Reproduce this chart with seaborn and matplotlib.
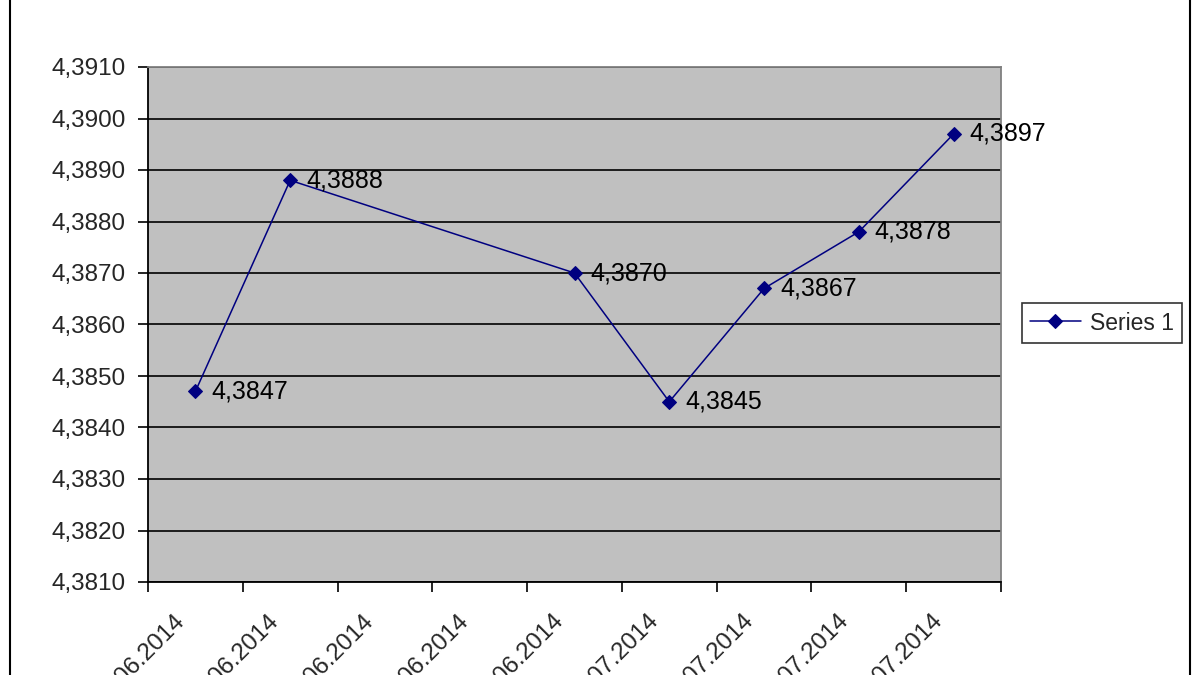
import matplotlib
matplotlib.use("Agg")
import matplotlib.pyplot as plt
import matplotlib.ticker as mticker
import matplotlib.transforms as mtransforms
from matplotlib.patches import Rectangle
import seaborn as sns
import pandas as pd

# ---- data ----
category_dates = ["26.06.2014", "27.06.2014", "28.06.2014", "29.06.2014", "30.06.2014",
                  "01.07.2014", "02.07.2014", "03.07.2014", "04.07.2014"]
point_dates = ["26.06.2014", "27.06.2014", "30.06.2014", "01.07.2014",
               "02.07.2014", "03.07.2014", "04.07.2014"]
values = [4.3847, 4.3888, 4.3870, 4.3845, 4.3867, 4.3878, 4.3897]
series_name = "Series 1"
y_ticks = [4.3810, 4.3820, 4.3830, 4.3840, 4.3850, 4.3860, 4.3870, 4.3880, 4.3890, 4.3900, 4.3910]

sns.set_theme(style="white")
plt.rcParams['font.family'] = ['Liberation Sans', 'DejaVu Sans']
FS = 17.5

df = pd.DataFrame({"date": pd.to_datetime(point_dates, format="%d.%m.%Y"), "value": values})
cats = pd.to_datetime(category_dates, format="%d.%m.%Y")

fig = plt.figure(figsize=(12, 6.75), dpi=100)
fig.patch.set_facecolor("white")
ax = fig.add_axes([148/1200, 1-582/675, (1001-148)/1200, (582-67)/675])
ax.set_facecolor("#C0C0C0")

navy = "#000080"
sns.lineplot(data=df, x="date", y="value", ax=ax, color=navy, linewidth=1.1,
             marker="D", markersize=7, markeredgecolor=navy, markerfacecolor=navy,
             label=series_name, legend=False)

# data labels
for d, v in zip(df["date"], df["value"]):
    ax.annotate(f"{v:.4f}".replace(".", ","), xy=(d, v), xytext=(11.5, 0),
                textcoords="offset points", ha="left", va="center",
                fontsize=18, color="black")

# axes ranges
half = pd.Timedelta(hours=12)
ax.set_xlim(cats[0] - half, cats[-1] + half)
ax.set_ylim(y_ticks[0], y_ticks[-1])

# y axis
ax.set_yticks(y_ticks)
ax.yaxis.set_major_formatter(mticker.FuncFormatter(lambda v, p: f"{v:.4f}".replace(".", ",")))
ax.tick_params(axis="y", which="major", left=True, length=7, width=1.2, color="black",
               labelsize=FS, pad=9)
ax.yaxis.grid(True, color="black", linewidth=1.2)
ax.set_axisbelow(True)

# x axis: major ticks at category boundaries, labels at centers (minor)
bounds = [c - half for c in cats] + [cats[-1] + half]
ax.set_xticks(bounds)
ax.set_xticklabels([""] * len(bounds))
ax.set_xticks(cats, minor=True)
ax.set_xticklabels(category_dates, minor=True, rotation=45, ha="right",
                   rotation_mode="anchor", fontsize=FS)
ax.tick_params(axis="x", which="major", bottom=True, length=7, width=1.2, color="black")
ax.tick_params(axis="x", which="minor", bottom=False, length=0, pad=10)
shift = mtransforms.ScaledTranslation(-22/100, -14/100, fig.dpi_scale_trans)
for lbl in ax.get_xticklabels(minor=True):
    lbl.set_transform(lbl.get_transform() + shift)
ax.set_xlabel("")
ax.set_ylabel("")

for s in ["left", "bottom"]:
    ax.spines[s].set_color("black")
    ax.spines[s].set_linewidth(1.3)
for s in ["top", "right"]:
    ax.spines[s].set_color("#808080")
    ax.spines[s].set_linewidth(1.3)

# legend
h, l = ax.get_legend_handles_labels()
leg = fig.legend(h, l, loc="center", bbox_to_anchor=(1102/1200, 1-323/675),
                 frameon=True, fancybox=False, fontsize=FS-1, handlelength=2.2,
                 borderpad=0.35, handletextpad=0.4)
leg.get_frame().set_edgecolor("black")
leg.get_frame().set_linewidth(1.2)

# outer chart frame
fig.patches.append(Rectangle((10/1200, -0.1), (1190-10)/1200, 1.2, transform=fig.transFigure,
                             fill=False, edgecolor="black", linewidth=1.5))

fig.savefig("out.png", dpi=100, facecolor="white")
